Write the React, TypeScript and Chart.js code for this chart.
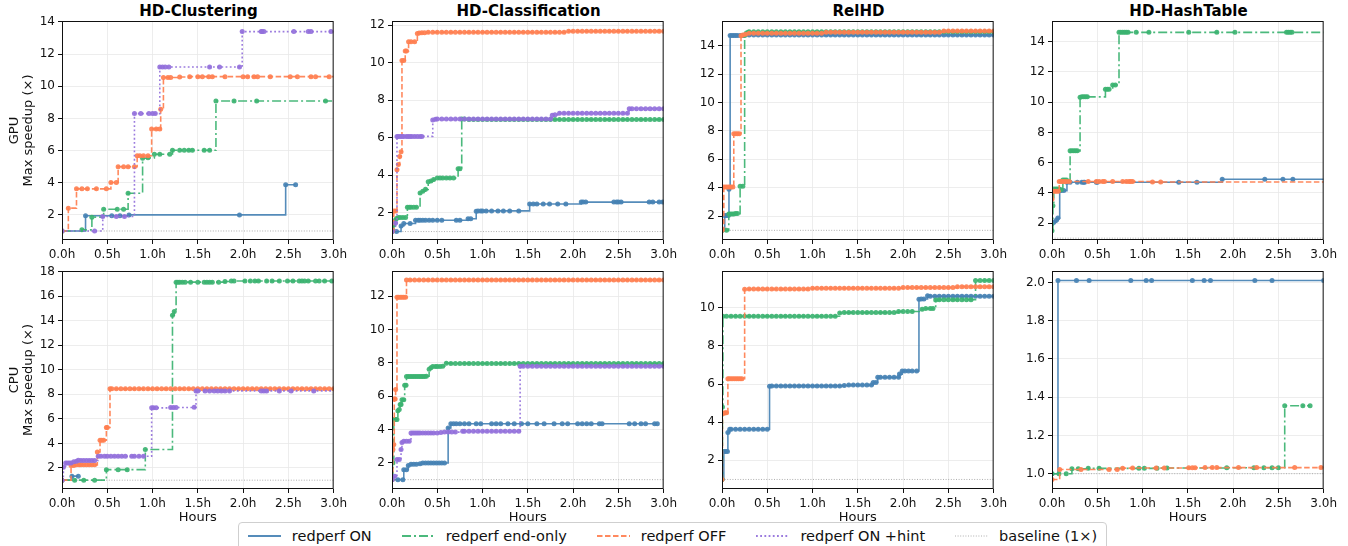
import React, { useEffect, useRef } from 'react';
import { Chart, registerables } from 'chart.js';
Chart.register(...registerables);
Chart.defaults.font.family = 'DejaVu Sans';

type P = [number, number][];

// ---------- HD-Clustering GPU ----------
const clusGpuOn: P = [[0,1.0],[0.26,1.95],[0.55,1.95],[0.64,1.95],[0.74,2.0],[1.96,2.0],[2.47,3.88],[2.58,3.88]];
const clusGpuEnd: P = [[0,1.0],[0.22,1.07],[0.33,1.86],[0.46,2.35],[0.61,2.35],[0.68,2.35],[0.73,3.35],[0.89,5.52],[0.95,5.55],[1.02,5.77],[1.08,5.77],[1.19,5.77],[1.22,6.02],[1.3,6.02],[1.35,6.02],[1.4,6.02],[1.44,6.02],[1.57,6.02],[1.63,6.02],[1.7,9.08],[1.9,9.08],[2.15,9.08],[2.91,9.08]];
const clusGpuOff: P = [[0,1.0],[0.07,2.42],[0.16,3.62],[0.22,3.62],[0.28,3.62],[0.38,3.62],[0.49,3.62],[0.54,4.02],[0.6,4.02],[0.62,5.0],[0.68,5.0],[0.73,5.0],[0.8,5.0],[0.83,5.68],[0.86,5.68],[0.9,5.68],[0.95,5.68],[0.99,7.35],[1.04,7.35],[1.08,7.35],[1.09,8.57],[1.12,10.55],[1.17,10.55],[1.2,10.55],[1.3,10.58],[1.41,10.6],[1.5,10.6],[1.55,10.6],[1.62,10.6],[1.66,10.6],[1.8,10.6],[2.0,10.6],[2.05,10.6],[2.12,10.6],[2.16,10.6],[2.3,10.6],[2.52,10.6],[2.6,10.6],[2.75,10.6],[2.8,10.6],[2.95,10.6]];
const clusGpuHint: P = [[0,1.0],[0.36,1.0],[0.45,1.9],[0.6,1.9],[0.69,1.9],[0.8,8.3],[0.87,8.3],[0.96,8.3],[1.0,8.3],[1.03,8.3],[1.08,11.2],[1.11,11.2],[1.14,11.2],[1.18,11.2],[1.63,11.2],[1.74,11.2],[1.96,11.2],[1.99,13.4],[2.2,13.4],[2.21,13.4],[2.23,13.4],[2.56,13.4],[2.72,13.4],[2.75,13.4],[2.97,13.4]];

// ---------- HD-Classification GPU ----------
const clsGpuOn: P = [[0,1.0],[0.05,1.0],[0.1,1.3],[0.13,1.43],[0.2,1.43],[0.26,1.6],[0.29,1.6],[0.31,1.6],[0.34,1.6],[0.37,1.6],[0.41,1.6],[0.45,1.6],[0.5,1.6],[0.55,1.6],[0.71,1.6],[0.75,1.6],[0.84,1.68],[0.87,1.68],[0.93,2.08],[0.95,2.1],[0.98,2.1],[1.0,2.1],[1.04,2.1],[1.1,2.1],[1.17,2.1],[1.23,2.1],[1.3,2.1],[1.4,2.1],[1.52,2.47],[1.56,2.47],[1.6,2.47],[1.67,2.47],[1.74,2.47],[1.83,2.47],[1.92,2.47],[2.09,2.57],[2.11,2.57],[2.14,2.57],[2.45,2.57],[2.48,2.57],[2.5,2.57],[2.53,2.57],[2.84,2.57],[2.88,2.57],[2.95,2.57],[2.99,2.57]];
const clsGpuEnd: P = [[0,1.1],[0.02,1.35],[0.035,1.6],[0.05,1.7],[0.07,1.75],[0.09,1.75],[0.12,1.75],[0.15,1.75],[0.17,2.3],[0.19,2.3],[0.21,2.3],[0.24,2.3],[0.27,2.3],[0.31,3.05],[0.34,3.15],[0.37,3.25],[0.4,3.65],[0.43,3.7],[0.46,3.78],[0.5,3.85],[0.53,3.85],[0.56,3.85],[0.6,3.85],[0.64,3.85],[0.68,3.85],[0.73,4.35],[0.75,4.35],[0.77,7.0],[0.8,7.0],
  [0.85,6.97],[0.9,6.97],[0.95,6.97],[1.0,6.97],[1.05,6.97],[1.1,6.97],[1.15,6.97],[1.2,6.97],[1.25,6.97],[1.3,6.97],[1.35,6.97],[1.4,6.97],[1.45,6.97],[1.5,6.97],[1.55,6.97],[1.6,6.97],[1.65,6.97],[1.7,6.97],[1.75,6.97],[1.8,6.97],[1.85,6.97],[1.9,6.97],[1.95,6.97],[2.0,6.97],[2.05,6.97],[2.1,6.97],[2.15,6.97],[2.2,6.97],[2.25,6.97],[2.3,6.97],[2.35,6.97],[2.4,6.97],[2.45,6.97],[2.5,6.97],[2.55,6.97],[2.6,6.97],[2.65,6.97],[2.7,6.97],[2.75,6.97],[2.8,6.97],[2.85,6.97],[2.9,6.97],[2.95,6.97],[3.0,6.97]];
const clsGpuOff: P = [[0,1.0],[0.02,2.1],[0.04,2.1],[0.055,4.3],[0.07,4.57],[0.085,5.0],[0.1,5.25],[0.11,10.12],[0.13,10.12],[0.146,10.62],[0.16,10.62],[0.183,11.12],[0.21,11.12],[0.25,11.12],[0.28,11.56],[0.3,11.58],[0.33,11.6],[0.36,11.6],[0.4,11.62],
  [0.45,11.62],[0.5,11.62],[0.55,11.62],[0.6,11.62],[0.65,11.62],[0.7,11.62],[0.75,11.62],[0.8,11.62],[0.85,11.62],[0.9,11.62],[0.95,11.62],[1.0,11.62],[1.05,11.62],[1.1,11.62],[1.15,11.62],[1.2,11.62],[1.25,11.62],[1.3,11.62],[1.35,11.62],[1.4,11.62],[1.45,11.62],[1.5,11.62],[1.55,11.62],[1.6,11.62],[1.65,11.62],[1.7,11.62],[1.75,11.62],[1.8,11.62],[1.85,11.62],[1.9,11.62],
  [1.95,11.67],[2.0,11.67],[2.05,11.67],[2.1,11.67],[2.15,11.67],[2.2,11.67],[2.25,11.67],[2.3,11.67],[2.35,11.67],[2.4,11.67],[2.45,11.67],[2.5,11.67],[2.55,11.67],[2.6,11.67],[2.65,11.67],[2.7,11.67],[2.75,11.67],[2.8,11.67],[2.85,11.67],[2.9,11.67],[2.95,11.67],[3.0,11.67]];
const clsGpuHint: P = [[0,1.0],[0.04,1.45],[0.055,6.07],[0.07,6.07],[0.09,6.07],[0.11,6.07],[0.13,6.07],[0.16,6.07],[0.18,6.07],[0.2,6.07],[0.22,6.07],[0.25,6.07],[0.28,6.07],[0.31,6.07],[0.33,6.07],[0.45,6.95],[0.48,6.98],
  [0.5,7.0],[0.55,7.0],[0.6,7.0],[0.65,7.0],[0.7,7.0],[0.75,7.0],[0.8,7.0],[0.85,7.0],[0.9,7.0],[0.95,7.0],[1.0,7.0],[1.05,7.0],[1.1,7.0],[1.15,7.0],[1.2,7.0],[1.25,7.0],[1.3,7.0],[1.35,7.0],[1.4,7.0],[1.45,7.0],[1.5,7.0],[1.55,7.0],[1.6,7.0],[1.65,7.0],[1.7,7.0],[1.75,7.0],[1.77,7.2],[1.8,7.22],
  [1.85,7.3],[1.9,7.3],[1.95,7.3],[2.0,7.3],[2.05,7.3],[2.1,7.3],[2.15,7.3],[2.2,7.3],[2.25,7.3],[2.3,7.3],[2.35,7.3],[2.4,7.3],[2.45,7.3],[2.5,7.3],[2.55,7.3],[2.6,7.3],
  [2.62,7.55],[2.65,7.55],[2.7,7.55],[2.75,7.55],[2.8,7.55],[2.85,7.55],[2.9,7.55],[2.95,7.55],[3.0,7.55]];

// ---------- RelHD GPU ----------
const relGpuOn: P = [[0,1.0],[0.03,2.05],[0.05,2.05],[0.07,2.05],[0.077,3.9],[0.09,14.72],[0.11,14.72],[0.13,14.72],[0.15,14.72],[0.17,14.72],[0.2,14.72],[0.23,14.72],
  [0.25,14.75],[0.3,14.75],[0.35,14.75],[0.4,14.75],[0.45,14.75],[0.5,14.75],[0.55,14.75],[0.6,14.75],[0.65,14.75],[0.7,14.75],[0.75,14.75],[0.8,14.75],[0.85,14.75],[0.9,14.75],[0.95,14.75],[1.0,14.75],[1.05,14.75],[1.1,14.75],[1.15,14.75],[1.2,14.75],[1.25,14.75],[1.3,14.75],[1.35,14.75],[1.4,14.75],[1.45,14.75],[1.5,14.75],[1.55,14.75],[1.6,14.75],[1.65,14.75],[1.7,14.75],[1.75,14.75],[1.8,14.75],[1.85,14.75],[1.9,14.75],[1.95,14.75],[2.0,14.75],[2.05,14.75],[2.1,14.75],[2.15,14.75],[2.2,14.75],[2.25,14.75],[2.3,14.75],[2.35,14.75],[2.4,14.75],[2.45,14.75],[2.5,14.75],[2.55,14.75],[2.6,14.75],[2.65,14.75],[2.7,14.75],[2.75,14.75],[2.8,14.75],[2.85,14.75],[2.9,14.75],[2.95,14.75],[3.0,14.75]];
const relGpuEnd: P = [[0,1.0],[0.05,1.0],[0.075,2.15],[0.09,2.15],[0.11,2.15],[0.13,2.15],[0.15,2.18],[0.17,2.18],[0.2,4.1],[0.23,4.1],[0.25,14.72],[0.27,14.9],[0.29,14.95],
  [0.3,14.98],[0.35,14.98],[0.4,14.98],[0.45,14.98],[0.5,14.98],[0.55,14.98],[0.6,14.98],[0.65,14.98],[0.7,14.98],[0.75,14.98],[0.8,14.98],[0.85,14.98],[0.9,14.98],[0.95,14.98],[1.0,14.98],[1.05,14.98],[1.1,14.98],[1.15,14.98],[1.2,14.98],[1.25,14.98],[1.3,14.98],[1.35,14.98],[1.4,14.98],[1.45,14.98],[1.5,14.98],[1.55,14.98],[1.6,14.98],[1.65,14.98],[1.7,14.98],[1.75,14.98],[1.8,14.98],[1.85,14.98],[1.9,14.98],[1.95,14.98],[2.0,14.98],[2.05,14.98],[2.1,14.98],[2.15,14.98],[2.2,14.98],[2.25,14.98],[2.3,14.98],[2.35,14.98],[2.4,14.98],[2.45,14.98],[2.5,14.98],[2.55,14.98],[2.6,14.98],[2.65,14.98],[2.7,14.98],[2.75,14.98],[2.8,14.98],[2.85,14.98],[2.9,14.98],[2.95,14.98],[3.0,14.98]];
const relGpuOff: P = [[0,1.0],[0.02,4.05],[0.04,4.05],[0.06,4.05],[0.08,4.05],[0.1,4.05],[0.12,4.05],[0.13,7.8],[0.15,7.8],[0.17,7.8],[0.19,7.8],[0.21,14.7],[0.23,14.75],[0.26,14.8],
  [0.3,14.88],[0.35,14.88],[0.4,14.88],[0.45,14.88],[0.5,14.88],[0.55,14.88],[0.6,14.88],[0.65,14.88],[0.7,14.88],[0.75,14.88],[0.8,14.88],[0.85,14.88],[0.9,14.88],[0.95,14.88],[1.0,14.88],[1.05,14.88],[1.1,14.88],
  [1.15,14.95],[1.2,14.95],[1.25,14.95],[1.3,14.95],[1.35,14.95],[1.4,14.95],[1.45,14.95],[1.5,14.95],[1.55,14.95],[1.6,14.95],[1.65,14.95],[1.7,14.95],[1.75,14.95],[1.8,14.95],[1.85,14.95],[1.9,14.95],[1.95,14.95],[2.0,14.95],[2.05,14.95],[2.1,14.95],[2.15,14.95],[2.2,14.95],[2.25,14.95],[2.3,14.95],[2.35,14.95],[2.4,14.95],
  [2.45,15.03],[2.5,15.03],[2.55,15.03],[2.6,15.03],[2.65,15.03],[2.7,15.03],[2.75,15.03],[2.8,15.03],[2.85,15.03],[2.9,15.03],[2.95,15.03],[3.0,15.03]];

// ---------- HD-HashTable GPU ----------
const hashGpuOn: P = [[0,1.96],[0.02,2.05],[0.05,2.2],[0.065,2.33],[0.085,4.15],[0.1,4.15],[0.13,4.15],[0.165,4.7],[0.2,4.7],[0.28,4.7],[0.33,4.7],[0.35,4.7],[0.36,4.7],[0.49,4.7],[0.5,4.7],[1.4,4.7],[1.6,4.7],[1.88,4.9],[2.35,4.9],[2.55,4.9],[2.66,4.9]];
const hashGpuEnd: P = [[0,1.5],[0.01,3.15],[0.02,4.25],[0.04,4.25],[0.06,4.25],[0.08,4.25],[0.1,4.2],[0.12,4.85],[0.14,4.85],[0.16,4.85],[0.2,6.78],[0.22,6.78],[0.24,6.78],[0.26,6.78],[0.28,6.78],[0.31,10.33],[0.33,10.35],[0.35,10.35],[0.37,10.35],[0.39,10.35],[0.59,10.85],[0.61,10.85],[0.63,10.85],[0.67,11.14],[0.7,11.14],[0.74,14.62],[0.76,14.62],[0.78,14.62],[0.8,14.62],[0.82,14.62],[0.84,14.62],[0.93,14.62],[1.07,14.62],[1.51,14.62],[1.82,14.62],[2.02,14.62],[2.59,14.62],[2.61,14.62],[2.63,14.62],[2.65,14.62]];
const hashGpuOff: P = [[0,3.58],[0.01,4.1],[0.03,4.1],[0.05,4.1],[0.07,4.1],[0.08,4.75],[0.1,4.75],[0.12,4.75],[0.14,4.75],[0.16,4.75],[0.19,4.75],[0.4,4.75],[0.49,4.75],[0.52,4.75],[0.56,4.75],[0.58,4.75],[0.67,4.75],[0.78,4.75],[0.82,4.75],[0.85,4.75],[0.87,4.75],[0.89,4.75],[1.11,4.72],[1.2,4.72]];

// ---------- HD-Clustering CPU ----------
const clusCpuOn: P = [[0,1.0],[0.11,1.33],[0.18,1.33]];
const clusCpuEnd: P = [[0,1.0],[0.14,1.0],[0.24,1.0],[0.36,1.0],[0.49,1.86],[0.62,1.86],[0.72,1.86],[0.92,3.5],[1.22,14.45],[1.24,14.75],[1.26,17.15],[1.28,17.15],[1.3,17.15],[1.33,17.15],[1.36,17.15],[1.42,17.15],[1.5,17.15],[1.57,17.15],[1.6,17.15],[1.63,17.15],[1.66,17.15],[1.73,17.15],[1.8,17.2],[1.87,17.25],[1.9,17.25],[2.02,17.25],[2.08,17.25],[2.13,17.25],[2.17,17.25],[2.26,17.25],[2.32,17.25],[2.4,17.25],[2.49,17.25],[2.55,17.25],[2.62,17.25],[2.65,17.25],[2.68,17.25],[2.72,17.25],[2.8,17.25],[2.84,17.25],[2.9,17.25],[2.98,17.25]];
const clusCpuOff: P = [[0,1.0],[0.1,2.2],[0.13,2.2],[0.16,2.25],[0.19,2.25],[0.21,2.25],[0.24,2.25],[0.27,2.25],[0.3,2.25],[0.33,2.25],[0.36,2.25],[0.39,3.3],[0.42,4.25],[0.44,4.25],[0.46,4.25],[0.49,5.3],[0.5,5.3],[0.53,8.45],
  [0.55,8.45],[0.6,8.45],[0.65,8.45],[0.7,8.45],[0.75,8.45],[0.8,8.45],[0.85,8.45],[0.9,8.45],[0.95,8.45],[1.0,8.45],[1.05,8.45],[1.1,8.45],[1.15,8.45],[1.2,8.45],[1.25,8.45],[1.3,8.45],[1.35,8.45],[1.4,8.45],[1.45,8.45],[1.5,8.45],[1.55,8.45],[1.6,8.45],[1.65,8.45],[1.7,8.45],[1.75,8.45],[1.8,8.45],[1.85,8.45],[1.9,8.45],[1.95,8.45],[2.0,8.45],[2.05,8.45],[2.1,8.45],[2.15,8.45],[2.2,8.45],[2.25,8.45],[2.3,8.45],[2.35,8.45],[2.4,8.45],[2.45,8.45],[2.5,8.45],[2.55,8.45],[2.6,8.45],[2.65,8.45],[2.7,8.45],[2.75,8.45],[2.8,8.45],[2.85,8.45],[2.9,8.45],[2.95,8.45],[3.0,8.45]];
const clusCpuHint: P = [[0,1.0],[0.015,2.05],[0.04,2.4],[0.06,2.4],[0.08,2.4],[0.1,2.4],[0.13,2.5],[0.16,2.55],[0.18,2.62],[0.21,2.6],[0.24,2.6],[0.27,2.6],[0.3,2.6],[0.33,2.6],[0.36,2.6],[0.4,2.95],[0.43,2.95],[0.47,2.95],[0.5,2.95],[0.54,2.95],[0.58,2.95],[0.62,2.95],[0.66,2.95],[0.7,2.95],[0.77,2.95],[0.8,2.95],[0.85,2.95],[0.9,2.95],[0.99,6.9],[1.01,6.9],[1.04,6.9],[1.2,6.93],[1.23,6.93],[1.26,6.93],[1.46,6.95],[1.48,8.28],[1.5,8.28],[1.58,8.28],[1.63,8.28],[1.68,8.28],[1.72,8.28],[1.76,8.28],[1.8,8.28],[1.85,8.28],[2.2,8.28],[2.23,8.28],[2.26,8.28],[2.4,8.28],[2.53,8.28],[2.78,8.28]];

// ---------- HD-Classification CPU ----------
const clsCpuOn: P = [[0,1.0],[0.065,1.0],[0.12,1.0],[0.13,1.6],[0.16,1.6],[0.18,1.85],[0.21,1.92],[0.24,1.92],[0.27,1.92],[0.31,1.95],[0.34,2.0],[0.37,2.0],[0.4,2.0],[0.43,2.0],[0.46,2.0],[0.49,2.0],[0.52,2.0],[0.55,2.0],[0.58,2.0],[0.62,4.1],[0.65,4.35],[0.68,4.35],[0.71,4.35],[0.75,4.35],[0.8,4.35],[0.85,4.35],[0.93,4.35],[0.98,4.35],[1.1,4.35],[1.15,4.35],[1.2,4.35],[1.28,4.35],[1.35,4.35],[1.43,4.35],[1.5,4.35],[1.6,4.35],[1.68,4.35],[1.79,4.35],[1.88,4.35],[1.94,4.35],[2.05,4.35],[2.1,4.35],[2.15,4.35],[2.2,4.35],[2.29,4.35],[2.32,4.35],[2.62,4.35],[2.68,4.35],[2.75,4.35],[2.8,4.35],[2.9,4.35],[2.93,4.35]];
const clsCpuEnd: P = [[0,1.0],[0.01,2.0],[0.02,4.6],[0.04,4.6],[0.055,4.6],[0.065,5.13],[0.08,5.2],[0.09,5.5],[0.1,5.5],[0.11,5.78],[0.13,5.78],[0.14,6.65],[0.155,6.65],[0.16,7.18],[0.18,7.18],[0.2,7.18],[0.22,7.18],[0.24,7.18],[0.26,7.18],[0.28,7.18],[0.3,7.18],[0.32,7.18],[0.34,7.18],[0.36,7.18],[0.38,7.2],[0.41,7.62],[0.43,7.7],[0.45,7.78],[0.48,7.78],[0.5,7.78],[0.53,7.78],[0.56,7.8],[0.6,7.98],
  [0.65,7.96],[0.7,7.96],[0.75,7.96],[0.8,7.96],[0.85,7.96],[0.9,7.96],[0.95,7.96],[1.0,7.96],[1.05,7.96],[1.1,7.96],[1.15,7.96],[1.2,7.96],[1.25,7.96],[1.3,7.96],[1.35,7.96],[1.4,7.96],[1.45,7.96],[1.5,7.96],[1.55,7.96],[1.6,7.96],[1.65,7.96],[1.7,7.96],[1.75,7.96],[1.8,7.96],[1.85,7.96],[1.9,7.96],[1.95,7.96],[2.0,7.96],[2.05,7.96],[2.1,7.96],[2.15,7.96],[2.2,7.96],[2.25,7.96],[2.3,7.96],[2.35,7.96],[2.4,7.96],[2.45,7.96],[2.5,7.96],[2.55,7.96],[2.6,7.96],[2.65,7.96],[2.7,7.96],[2.75,7.96],[2.8,7.96],[2.85,7.96],[2.9,7.96],[2.95,7.96],[3.0,7.96]];
const clsCpuOff: P = [[0,1.0],[0.01,2.8],[0.02,3.1],[0.025,5.83],[0.035,5.83],[0.04,6.4],[0.055,11.92],[0.07,11.92],[0.09,11.92],[0.11,11.92],[0.13,11.92],[0.15,11.92],[0.16,12.96],
  [0.2,12.96],[0.25,12.96],[0.3,12.96],[0.35,12.96],[0.4,12.96],[0.45,12.96],[0.5,12.96],[0.55,12.96],[0.6,12.96],[0.65,12.96],[0.7,12.96],[0.75,12.96],[0.8,12.96],[0.85,12.96],[0.9,12.96],[0.95,12.96],[1.0,12.96],[1.05,12.96],[1.1,12.96],[1.15,12.96],[1.2,12.96],[1.25,12.96],[1.3,12.96],[1.35,12.96],[1.4,12.96],[1.45,12.96],[1.5,12.96],[1.55,12.96],[1.6,12.96],[1.65,12.96],[1.7,12.96],[1.75,12.96],[1.8,12.96],[1.85,12.96],[1.9,12.96],[1.95,12.96],[2.0,12.96],[2.05,12.96],[2.1,12.96],[2.15,12.96],[2.2,12.96],[2.25,12.96],[2.3,12.96],[2.35,12.96],[2.4,12.96],[2.45,12.96],[2.5,12.96],[2.55,12.96],[2.6,12.96],[2.65,12.96],[2.7,12.96],[2.75,12.96],[2.8,12.96],[2.85,12.96],[2.9,12.96],[2.95,12.96],[3.0,12.96]];
const clsCpuHint: P = [[0,1.0],[0.03,1.2],[0.055,2.2],[0.08,2.2],[0.1,2.8],[0.11,3.23],[0.13,3.3],[0.16,3.3],[0.19,3.3],[0.21,3.8],[0.23,3.8],[0.25,3.8],[0.27,3.8],[0.29,3.8],[0.31,3.8],[0.34,3.8],[0.37,3.8],[0.4,3.8],[0.43,3.8],[0.46,3.8],[0.5,3.8],[0.54,3.82],[0.58,3.85],[0.62,3.85],[0.66,3.85],[0.7,3.85],[0.78,3.9],
  [0.8,3.9],[0.85,3.9],[0.9,3.9],[0.95,3.9],[1.0,3.9],[1.05,3.9],[1.1,3.9],[1.15,3.9],[1.2,3.9],[1.25,3.9],[1.3,3.9],[1.35,3.9],[1.4,3.9],[1.415,7.8],
  [1.45,7.8],[1.5,7.8],[1.55,7.8],[1.6,7.8],[1.65,7.8],[1.7,7.8],[1.75,7.8],[1.8,7.8],[1.85,7.8],[1.9,7.8],[1.95,7.8],[2.0,7.8],[2.05,7.8],[2.1,7.8],[2.15,7.8],[2.2,7.8],[2.25,7.8],[2.3,7.8],[2.35,7.8],[2.4,7.8],[2.45,7.8],[2.5,7.8],[2.55,7.8],[2.6,7.8],[2.65,7.8],[2.7,7.8],[2.75,7.8],[2.8,7.8],[2.85,7.8],[2.9,7.8],[2.95,7.8],[3.0,7.8]];

// ---------- RelHD CPU ----------
const relCpuOn: P = [[0,1.0],[0.02,2.47],[0.04,2.47],[0.06,2.47],[0.065,3.46],[0.085,3.63],[0.1,3.63],[0.15,3.63],[0.2,3.63],[0.25,3.63],[0.3,3.63],[0.35,3.63],[0.4,3.63],[0.45,3.63],[0.5,3.63],[0.525,5.88],
  [0.55,5.9],[0.6,5.9],[0.65,5.9],[0.7,5.9],[0.75,5.9],[0.8,5.9],[0.85,5.9],[0.9,5.9],[0.95,5.9],[1.0,5.9],[1.05,5.9],[1.1,5.9],[1.15,5.9],[1.2,5.9],[1.25,5.9],[1.3,5.9],[1.35,5.92],[1.4,5.95],[1.45,5.95],[1.5,5.95],[1.55,5.95],[1.6,5.95],[1.65,5.95],
  [1.67,6.08],[1.7,6.08],[1.72,6.35],[1.75,6.35],[1.8,6.35],[1.85,6.35],[1.9,6.35],[1.95,6.35],[1.96,6.52],[1.99,6.68],[2.02,6.68],[2.06,6.68],[2.1,6.68],[2.15,6.68],[2.175,10.44],[2.2,10.45],[2.23,10.45],[2.27,10.63],
  [2.3,10.6],[2.35,10.6],[2.4,10.6],[2.45,10.6],[2.5,10.6],[2.55,10.6],[2.6,10.6],[2.65,10.6],[2.7,10.6],[2.75,10.6],[2.8,10.6],[2.85,10.6],[2.9,10.6],[2.95,10.6],[3.0,10.6]];
const relCpuEnd: P = [[0,1.0],[0.005,4.8],[0.01,9.55],
  [0.05,9.55],[0.1,9.55],[0.15,9.55],[0.2,9.55],[0.25,9.55],[0.3,9.55],[0.35,9.55],[0.4,9.55],[0.45,9.55],[0.5,9.55],[0.55,9.55],[0.6,9.55],[0.65,9.55],[0.7,9.55],[0.75,9.55],[0.8,9.55],[0.85,9.55],[0.9,9.55],[0.95,9.55],[1.0,9.55],[1.05,9.55],[1.1,9.55],[1.15,9.55],[1.2,9.55],[1.25,9.55],
  [1.3,9.72],[1.35,9.74],[1.4,9.74],[1.45,9.74],[1.5,9.74],[1.55,9.74],[1.6,9.74],[1.65,9.74],[1.7,9.74],[1.75,9.74],[1.8,9.74],[1.85,9.74],[1.9,9.74],
  [1.95,9.8],[2.0,9.8],[2.05,9.8],[2.1,9.8],[2.21,9.92],[2.25,9.95],[2.3,9.95],[2.33,9.95],[2.36,10.4],[2.4,10.42],[2.45,10.42],[2.5,10.42],[2.55,10.42],[2.6,10.42],[2.65,10.42],[2.7,10.42],[2.75,10.42],
  [2.8,11.42],[2.85,11.42],[2.9,11.42],[2.95,11.42],[3.0,11.42]];
const relCpuOff: P = [[0,1.0],[0.005,4.45],[0.02,4.47],[0.035,4.5],[0.05,4.5],[0.065,6.28],[0.08,6.28],[0.1,6.28],[0.12,6.28],[0.14,6.28],[0.16,6.28],[0.18,6.28],[0.2,6.28],[0.22,6.28],[0.25,10.96],
  [0.3,10.98],[0.35,10.98],[0.4,10.98],[0.45,10.98],[0.5,10.98],[0.55,10.98],[0.6,10.98],[0.65,10.98],[0.7,10.98],[0.75,10.98],[0.8,10.98],[0.85,10.98],[0.9,10.98],[0.95,10.98],
  [1.0,11.02],[1.05,11.02],[1.1,11.02],[1.15,11.02],[1.2,11.02],[1.25,11.02],[1.3,11.02],[1.35,11.02],[1.4,11.02],[1.45,11.02],[1.5,11.02],[1.55,11.02],[1.6,11.02],[1.65,11.02],[1.7,11.02],[1.75,11.02],[1.8,11.02],[1.85,11.02],[1.9,11.02],[1.95,11.02],
  [2.0,11.05],[2.05,11.05],[2.1,11.05],[2.15,11.05],[2.2,11.05],[2.25,11.05],[2.3,11.05],[2.35,11.05],[2.4,11.05],[2.45,11.05],[2.5,11.05],[2.55,11.05],
  [2.6,11.1],[2.65,11.1],[2.7,11.1],[2.75,11.1],[2.8,11.1],[2.85,11.1],[2.9,11.1],[2.95,11.1],[3.0,11.1]];

// ---------- HD-HashTable CPU ----------
const hashCpuOn: P = [[0,1.0],[0.066,2.01],[0.27,2.01],[0.41,2.01],[0.87,2.01],[1.04,2.01],[1.1,2.01],[1.55,2.01],[1.68,2.01],[1.75,2.01],[2.24,2.01],[2.43,2.01],[3.0,2.01]];
const hashCpuEnd: P = [[0,1.0],[0.077,1.0],[0.157,1.0],[0.22,1.026],[0.29,1.026],[0.4,1.028],[0.52,1.028],[0.96,1.028],[1.02,1.028],[1.16,1.029],[1.27,1.03],[1.93,1.031],[2.23,1.031],[2.34,1.031],[2.43,1.031],[2.5,1.031],[2.57,1.355],[2.77,1.355],[2.85,1.355]];
const hashCpuOff: P = [[0,0.97],[0.085,1.022],[0.32,1.022],[0.63,1.022],[0.72,1.022],[0.78,1.029],[0.89,1.03],[1.15,1.03],[1.24,1.03],[1.51,1.031],[1.55,1.031],[1.58,1.031],[1.69,1.032],[1.77,1.032],[1.82,1.032],[2.06,1.032],[2.26,1.032],[2.68,1.032],[2.97,1.033]];

const titles = ['HD-Clustering', 'HD-Classification', 'RelHD', 'HD-HashTable'];
const xTicksHours = [0, 0.5, 1.0, 1.5, 2.0, 2.5, 3.0];
const legendLabels = ['redperf ON', 'redperf end-only', 'redperf OFF', 'redperf ON +hint', 'baseline (1×)'];

type Kind = 'on' | 'end' | 'off' | 'hint';
const STYLE: Record<Kind, { color: string; dash: number[]; order: number }> = {
  on: { color: 'rgba(70,130,180,0.92)', dash: [], order: 4 },
  end: { color: 'rgba(60,179,113,0.92)', dash: [9, 3, 2, 3], order: 3 },
  off: { color: 'rgba(255,127,80,0.92)', dash: [5.5, 2.5], order: 2 },
  hint: { color: 'rgba(147,112,219,0.92)', dash: [1.8, 2.4], order: 1 },
};

interface Series { kind: Kind; data: P; ext?: number }
interface PanelCfg { row: number; col: number; ymin: number; ymax: number; step: number; dec: number; yTitle?: string[]; series: Series[] }

const panels: PanelCfg[] = [
  { row: 0, col: 0, ymin: 0.44, ymax: 14.06, step: 2, dec: 0, yTitle: ['GPU', 'Max speedup (×)'], series: [
    { kind: 'on', data: clusGpuOn }, { kind: 'end', data: clusGpuEnd, ext: 3 }, { kind: 'off', data: clusGpuOff, ext: 3 }, { kind: 'hint', data: clusGpuHint, ext: 3 }] },
  { row: 0, col: 1, ymin: 0.55, ymax: 12.22, step: 2, dec: 0, series: [
    { kind: 'on', data: clsGpuOn }, { kind: 'end', data: clsGpuEnd }, { kind: 'off', data: clsGpuOff }, { kind: 'hint', data: clsGpuHint }] },
  { row: 0, col: 2, ymin: 0.32, ymax: 15.74, step: 2, dec: 0, series: [
    { kind: 'on', data: relGpuOn }, { kind: 'end', data: relGpuEnd }, { kind: 'off', data: relGpuOff }] },
  { row: 0, col: 3, ymin: 0.88, ymax: 15.37, step: 2, dec: 0, series: [
    { kind: 'on', data: hashGpuOn, ext: 3 }, { kind: 'end', data: hashGpuEnd, ext: 3 }, { kind: 'off', data: hashGpuOff, ext: 3 }] },
  { row: 1, col: 0, ymin: 0.28, ymax: 18.06, step: 2, dec: 0, yTitle: ['CPU', 'Max speedup (×)'], series: [
    { kind: 'on', data: clusCpuOn }, { kind: 'end', data: clusCpuEnd, ext: 3 }, { kind: 'off', data: clusCpuOff }, { kind: 'hint', data: clusCpuHint, ext: 3 }] },
  { row: 1, col: 1, ymin: 0.44, ymax: 13.5, step: 2, dec: 0, series: [
    { kind: 'on', data: clsCpuOn }, { kind: 'end', data: clsCpuEnd }, { kind: 'off', data: clsCpuOff }, { kind: 'hint', data: clsCpuHint }] },
  { row: 1, col: 2, ymin: 0.5, ymax: 11.92, step: 2, dec: 0, series: [
    { kind: 'on', data: relCpuOn }, { kind: 'end', data: relCpuEnd }, { kind: 'off', data: relCpuOff }] },
  { row: 1, col: 3, ymin: 0.92, ymax: 2.06, step: 0.2, dec: 1, series: [
    { kind: 'on', data: hashCpuOn }, { kind: 'end', data: hashCpuEnd }, { kind: 'off', data: hashCpuOff, ext: 3 }] },
];

const PLOT_LEFT = [62, 392, 722, 1052];
const PLOT_W = 273;
const ROW_TOP = [21, 271];
const ROW_H = [219, 218];
const Y_AXIS_W = 62;
const PAD_TOP = 12;
const PAD_RIGHT = 16;
const X_AXIS_H = [24, 36];
const GRID = '#e8e8e8';
const TICK_FONT = { family: 'DejaVu Sans', size: 12 };

const framePlugin = {
  id: 'frame',
  afterDraw(chart: any) {
    const { ctx, chartArea: a } = chart;
    ctx.save();
    ctx.strokeStyle = '#111';
    ctx.lineWidth = 1;
    ctx.strokeRect(a.left + 0.5, a.top + 0.5, a.right - a.left - 1, a.bottom - a.top - 1);
    ctx.restore();
  },
};

function Panel({ cfg }: { cfg: PanelCfg }) {
  const ref = useRef<HTMLCanvasElement>(null);
  const w = Y_AXIS_W + PLOT_W + PAD_RIGHT;
  const h = PAD_TOP + ROW_H[cfg.row] + X_AXIS_H[cfg.row];
  useEffect(() => {
    const datasets: any[] = cfg.series.map((s) => {
      const st = STYLE[s.kind];
      const pts: any[] = s.data.map(([x, y]) => ({ x, y }));
      if (s.ext !== undefined) pts.push({ x: s.ext, y: s.data[s.data.length - 1][1], ext: true });
      return {
        data: pts,
        borderColor: st.color,
        backgroundColor: st.color,
        pointBackgroundColor: st.color,
        pointBorderWidth: 0,
        pointRadius: (c: any) => (c.raw && c.raw.ext ? 0 : 2.5),
        borderWidth: 1.6,
        borderDash: st.dash,
        stepped: 'before',
        order: st.order,
        fill: false,
      };
    });
    datasets.push({
      data: [{ x: 0, y: 1 }, { x: 3, y: 1 }],
      borderColor: '#9a9a9a',
      borderWidth: 0.8,
      borderDash: [1, 1.6],
      pointRadius: 0,
      order: 10,
      fill: false,
    });
    const chart = new Chart(ref.current as HTMLCanvasElement, {
      type: 'line',
      data: { datasets },
      plugins: [framePlugin],
      options: {
        animation: false,
        responsive: false,
        devicePixelRatio: 1,
        events: [],
        layout: { padding: { left: 0, right: PAD_RIGHT, top: PAD_TOP, bottom: 0 } },
        plugins: { legend: { display: false }, tooltip: { enabled: false } },
        scales: {
          x: {
            type: 'linear', min: 0, max: 3,
            afterBuildTicks: (s: any) => { s.ticks = xTicksHours.map((v) => ({ value: v })); },
            ticks: { autoSkip: false, maxRotation: 0, padding: 4, font: TICK_FONT, color: '#111', callback: (v: any) => Number(v).toFixed(1) + 'h' },
            grid: { color: GRID, lineWidth: 0.8, tickColor: '#111', tickLength: 4, tickWidth: 1 },
            border: { display: false },
            title: cfg.row === 1
              ? { display: true, text: 'Hours', color: '#111', font: { family: 'DejaVu Sans', size: 13 }, padding: { top: 0, bottom: 0 } }
              : { display: false },
            afterFit: (s: any) => { s.height = X_AXIS_H[cfg.row]; },
          },
          y: {
            type: 'linear', min: cfg.ymin, max: cfg.ymax,
            ticks: { stepSize: cfg.step, includeBounds: false, padding: 3, font: TICK_FONT, color: '#111', callback: (v: any) => Number(v).toFixed(cfg.dec) },
            grid: { color: GRID, lineWidth: 0.8, tickColor: '#111', tickLength: 4, tickWidth: 1 },
            border: { display: false },
            title: cfg.yTitle
              ? { display: true, text: cfg.yTitle, color: '#111', font: { family: 'DejaVu Sans', size: 13, lineHeight: 1.1 }, padding: { top: 7, bottom: 0 } }
              : { display: false },
            afterFit: (s: any) => { s.width = Y_AXIS_W; },
          },
        },
      } as any,
    });
    return () => chart.destroy();
  }, []);
  return (
    <canvas
      ref={ref}
      width={w}
      height={h}
      style={{ position: 'absolute', left: PLOT_LEFT[cfg.col] - Y_AXIS_W, top: ROW_TOP[cfg.row] - PAD_TOP, width: w, height: h }}
    />
  );
}

function LegendSample({ kind }: { kind: Kind | 'base' }) {
  if (kind === 'base') {
    return (
      <svg width={33} height={12} style={{ display: 'block' }}>
        <line x1={0} y1={6} x2={33} y2={6} stroke="#9a9a9a" strokeWidth={0.8} strokeDasharray="1 1.6" />
      </svg>
    );
  }
  const st = STYLE[kind];
  return (
    <svg width={33} height={12} style={{ display: 'block' }}>
      <line x1={0} y1={6} x2={33} y2={6} stroke={st.color} strokeWidth={2} strokeDasharray={st.dash.length ? st.dash.join(' ') : undefined} />
    </svg>
  );
}

export default function App() {
  const kinds: (Kind | 'base')[] = ['on', 'end', 'off', 'hint', 'base'];
  return (
    <div style={{ position: 'fixed', left: 0, top: 0, width: 1348, height: 546, overflow: 'hidden', background: '#fff', fontFamily: 'DejaVu Sans' }}>
      {titles.map((t, i) => (
        <div key={t} style={{ position: 'absolute', left: PLOT_LEFT[i], width: PLOT_W, top: 0, height: 22, lineHeight: '22px', textAlign: 'center', fontWeight: 'bold', fontSize: 15, color: '#000' }}>{t}</div>
      ))}
      {panels.map((p, i) => <Panel key={i} cfg={p} />)}
      <div style={{ position: 'absolute', left: 238, top: 522, width: 869, height: 28, boxSizing: 'border-box', border: '1px solid #cfcfcf', borderRadius: 4, background: '#fff', display: 'flex', alignItems: 'center', justifyContent: 'center', fontSize: 14.5, color: '#111' }}>
        {legendLabels.map((lab, i) => (
          <div key={lab} style={{ display: 'flex', alignItems: 'center', marginLeft: i === 0 ? 0 : 30 }}>
            <LegendSample kind={kinds[i]} />
            <span style={{ marginLeft: 11, whiteSpace: 'nowrap' }}>{lab}</span>
          </div>
        ))}
      </div>
    </div>
  );
}
